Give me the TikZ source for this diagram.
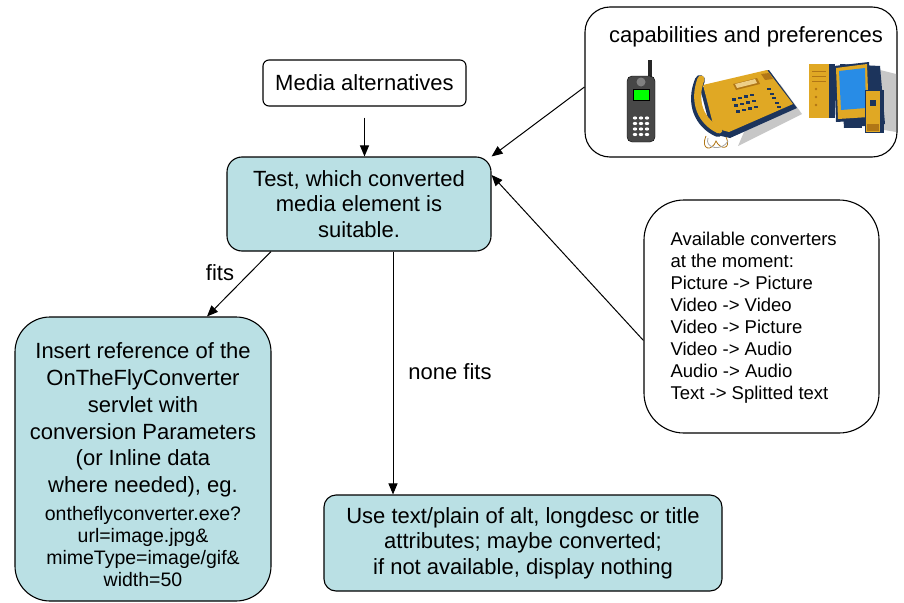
\documentclass[tikz,border=0pt]{standalone}
\usepackage{fontspec}
\setmainfont{Liberation Sans}
\usepackage{tikz}
\usetikzlibrary{arrows.meta, positioning}
\definecolor{boxfill}{RGB}{186,224,228}
\definecolor{gold}{RGB}{224,168,36}
\definecolor{darkgold}{RGB}{176,118,22}
\definecolor{navy}{RGB}{28,52,92}
\definecolor{screenblue}{RGB}{40,140,230}

\begin{document}
\begin{tikzpicture}[x=1pt, y=-1pt,
    box/.style={draw, line width=1.1pt, inner sep=0pt, align=center,
        font=\fontsize{22}{25.5}\selectfont},
    tealbox/.style={box, fill=boxfill},
    arr/.style={-{Triangle[length=11pt, width=9pt]}, line width=1pt},
    lbl/.style={font=\fontsize{22}{25.5}\selectfont}]
    \useasboundingbox (0,0) rectangle (904,602);

    % Boxes
    \node[box, rounded corners=6, minimum width=203, minimum height=46] (media) at (364.5,83) {Media alternatives};
    \node[box, rounded corners=25, minimum width=312, minimum height=150] (caps) at (741,82) {};
    \node[lbl] (capslabel) at (746,37) {capabilities and preferences};
    \node[tealbox, rounded corners=15, minimum width=264, minimum height=94] (test) at (359,204)
        {Test, which converted\\ media element is\\ suitable.};
    \node[tealbox, rounded corners=35, minimum width=256, minimum height=284] (insert) at (143,459) {};
    \node[lbl, align=center, font=\fontsize{22}{26.7}\selectfont] (inserttext) at (143,420)
        {Insert reference of the\\ OnTheFlyConverter\\ servlet with\\ conversion Parameters\\
         (or Inline data\\ where needed), eg.};
    \node[align=center, font=\fontsize{19.5}{22}\selectfont, inner sep=0pt] (insertsmall) at (143,546.5)
        {ontheflyconverter.exe?\\ url=image.jpg\&\\ mimeType=image/gif\&\\ width=50};
    \node[tealbox, rounded corners=12, minimum width=398, minimum height=96] (usetext) at (523,543)
        {Use text/plain of alt, longdesc or title\\ attributes; maybe converted;\\ if not available, display nothing};
    \node[box, rounded corners=40, minimum width=235, minimum height=233] (conv) at (761.5,316.5) {};
    \node[anchor=west, align=left, font=\fontsize{18.5}{22}\selectfont] (convtext) at (667,318)
        {Available converters\\ at the moment:\\ Picture -> Picture\\ Video -> Video\\
         Video -> Picture\\ Video -> Audio\\ Audio -> Audio\\ Text -> Splitted text};

    % Connectors
    \draw[arr, shorten <=11pt] (media.south) -- (media.south |- test.north);
    \draw[arr] ([yshift=-5]caps.west) -- (test.north east);
    \draw[arr] ([yshift=-24]conv.west) -- ([yshift=29]test.east);
    \draw[arr] ([xshift=-88]test.south) -- ([xshift=64]insert.north);
    \draw[arr] ([xshift=34]test.south) -- ([xshift=-130]usetext.north);
    \node[lbl] (fits) at (220,273) {fits};
    \node[lbl] (nonefits) at (450,372) {none fits};

    % Mobile phone
    \fill[black!85] (648,60) rectangle (652,80);
    \draw[fill=black!72, rounded corners=5] (627,76) rectangle (655,142);
    \fill[black!50] (641,82) circle (4.5);
    \draw[fill=green] (633,89) rectangle (649,100);
    \foreach \i in {0,1,2}
        \foreach \j in {0,...,3}
            \fill[white] (635+\i*6,118+\j*5.5) ellipse (2.2 and 1.6);

    % Desk phone
    \fill[black!22] (780,84) -- (802,114) -- (738,146) -- (744,132) -- cycle;
    \fill[navy] (700,88) -- (769,70) -- (797,108) -- (730,138) -- (712,134) -- cycle;
    \fill[gold] (703,85) -- (767,70) -- (793,104) -- (729,132) -- (714,128) -- cycle;
    \fill[darkgold] (733,84) -- (757,78) -- (760,84) -- (736,90) -- cycle;
    \fill[gold!55!white] (735,84) -- (755,79) -- (757,83) -- (737,88) -- cycle;
    \fill[darkgold] (761,74) -- (769,73) -- (773,79) -- (765,80) -- cycle;
    \foreach \i in {0,...,3}
        \foreach \j in {0,1,2}
            \fill[navy] (732+\i*6+\j*2,98+\j*6-\i*1.4) rectangle ++(4,2.5);
    \foreach \j in {0,...,4}
        \fill[navy] (767+\j*2.5,88+\j*4.5) rectangle ++(4,2);
    \draw[navy, line width=10pt, line cap=round] (700,80) .. controls (690,104) and (700,124) .. (718,132);
    \draw[gold, line width=7pt, line cap=round] (701,79) .. controls (692,103) and (702,122) .. (719,130);
    \draw[darkgold, line width=0.8pt] (706,136) .. controls (700,150) and (712,152) .. (716,141)
        .. controls (720,150) and (732,150) .. (726,137);
    \draw[black!35, line width=0.8pt] (708,138) .. controls (704,148) and (722,152) .. (728,141);

    % Computer
    \fill[black!22] (880,70) -- (896,74) -- (896,132) -- (884,130) -- cycle;
    \fill[navy] (828,64) rectangle (835,118);
    \fill[gold] (809,64) rectangle (829,118);
    \draw[darkgold, line width=0.6pt] (812,71) -- (826,71) (812,76) -- (826,76) (812,81) -- (826,81);
    \fill[darkgold] (816,89) circle (1.3) (816,97) circle (1.3) (816,105) circle (1.3);
    \fill[navy] (840,64) -- (880,66) -- (885,124) -- (844,128) -- cycle;
    \fill[navy] (834,66) -- (869,62) -- (871,120) -- (836,122) -- cycle;
    \fill[gold] (836,68) -- (867,64) -- (869,117) -- (838,119) -- cycle;
    \fill[screenblue] (839,71) -- (865,68) -- (866,108) -- (841,110) -- cycle;
    \fill[navy] (846,120) rectangle (862,128);
    \fill[navy] (865,90) rectangle (884,133);
    \fill[gold] (866,91) rectangle (880,132);
    \fill[navy] (870,100) rectangle (876,106);
    \fill[darkgold] (867,124) rectangle (879,131);
\end{tikzpicture}
\end{document}
